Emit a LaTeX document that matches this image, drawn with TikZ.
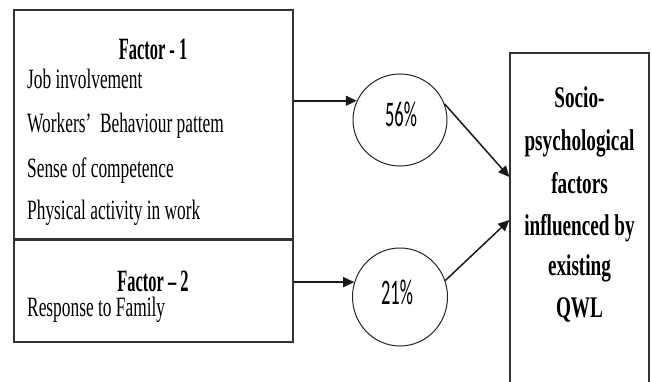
\documentclass[tikz,border=0pt]{standalone}
\usepackage{fontspec}
\setmainfont{Liberation Serif}
\newfontfamily\factorfont[FakeStretch=0.62]{Liberation Serif}
\newfontfamily\headfont[FakeStretch=0.53]{Liberation Serif}
\newfontfamily\qwlfont[FakeStretch=0.64]{Liberation Serif}
\newfontfamily\pctfont[FakeStretch=0.51]{Carlito}
\usetikzlibrary{shapes.geometric,arrows.meta,positioning}

\tikzset{
  factorbox/.style={draw=black!80, line width=1.3pt, minimum width=279pt, inner sep=0pt},
  factortext/.style={inner sep=0pt, anchor=base west, font=\factorfont\fontsize{28}{32}\selectfont},
  factorhead/.style={inner sep=0pt, anchor=base, font=\headfont\bfseries\fontsize{31}{34}\selectfont},
  pctnode/.style={ellipse, draw=black!85, line width=1pt, inner sep=0pt},
  pcttext/.style={inner sep=0pt, anchor=base, font=\pctfont\fontsize{36}{40}\selectfont},
  qwltext/.style={inner sep=0pt, anchor=base, font=\qwlfont\bfseries\fontsize{30}{34}\selectfont},
  linkarrow/.style={-{Triangle[length=11pt,width=10pt]}, line width=1.5pt, black!90}
}

\begin{document}
\begin{tikzpicture}[x=1pt,y=-1pt]
    \clip (0,0) rectangle (652,382);
    \useasboundingbox (0,0) rectangle (652,382);

    % Factor boxes
    \node[factorbox, minimum height=229pt] (f1) at (153.5,124.5) {};
    \node[factorbox, minimum height=102pt] (f2) at (153.5,291) {};

    % Factor 1 text
    \node[factorhead] (f1head) at (153,60) {Factor - 1};
    \node[factortext] (f1a) at (27,89) {Job involvement};
    \node[factortext] (f1b) at (27,133) {Workers’ \ Behaviour pattem};
    \node[factortext] (f1c) at (27,177) {Sense of competence};
    \node[factortext] (f1d) at (27,219) {Physical activity in work};

    % Factor 2 text
    \node[factorhead] (f2head) at (153,291) {Factor – 2};
    \node[factortext] (f2a) at (27,316) {Response to Family};

    % Percentages
    \node[pctnode, minimum width=94pt, minimum height=92pt] (c1) at (400,120) {};
    \node[pctnode, minimum width=95pt, minimum height=98pt] (c2) at (400,297) {};
    \node[pcttext] (p1) at (401,127) {56\%};
    \node[pcttext] (p2) at (397,304) {21\%};

    % Outcome box
    \node[draw=black!80, line width=1.3pt, minimum width=139pt, minimum height=339pt, inner sep=0pt] (qwl) at (579.5,222.5) {};
    \node[qwltext] (q1) at (579.5,108) {Socio-};
    \node[qwltext] (q2) at (579.5,150) {psychological};
    \node[qwltext] (q3) at (579.5,193) {factors};
    \node[qwltext] (q4) at (579.5,235) {influenced by};
    \node[qwltext] (q5) at (579.5,275) {existing};
    \node[qwltext] (q6) at (579.5,317) {QWL};

    % Links
    \draw[linkarrow] (f1.east |- c1.156) -- (c1.156);
    \draw[linkarrow] (f2.east |- c2.162) -- (c2.162);
    \draw[linkarrow] (c1.20) -- ([yshift=45.5pt]qwl.west);
    \draw[linkarrow] (c2.20) -- ([yshift=2.5pt]qwl.west);
\end{tikzpicture}
\end{document}
